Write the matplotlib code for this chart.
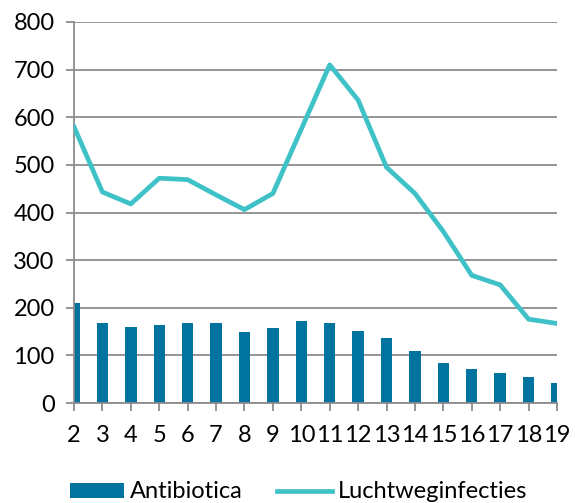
import matplotlib
matplotlib.use("Agg")
import matplotlib.pyplot as plt
import numpy as np

categories = [str(i) for i in range(2, 20)]
antibiotica = [210, 168, 159, 164, 167, 167, 150, 157, 172, 169, 152, 136, 109, 85, 71, 64, 54, 42]
luchtweg = [580, 443, 418, 472, 469, 437, 406, 440, 575, 710, 636, 495, 440, 360, 268, 248, 176, 167]
yticks = [0, 100, 200, 300, 400, 500, 600, 700, 800]

bar_color = "#0073A1"
line_color = "#3FC1C8"
grid_color = "#8C8C8C"

plt.rcParams['font.family'] = ['Lato', 'DejaVu Sans']
fs = 17

fig = plt.figure(figsize=(5.75, 5.03), dpi=100)
ax = fig.add_axes([74/575, 1 - 403/503, (557-74)/575, (403-22)/503])

x = np.arange(len(categories))
bars = ax.bar(x, antibiotica, width=0.4, color=bar_color, label="Antibiotica", zorder=2)
line, = ax.plot(x, luchtweg, color=line_color, lw=3.4, label="Luchtweginfecties", zorder=3)

ax.set_xlim(0, len(categories) - 1)
ax.set_ylim(0, 800)
ax.set_yticks(yticks)
ax.set_xticks(x)
ax.set_xticklabels(categories)
ax.grid(axis='y', color=grid_color, lw=1.3, zorder=0)
ax.set_axisbelow(True)
for s in ['top', 'right']:
    ax.spines[s].set_visible(False)
for s in ['left', 'bottom']:
    ax.spines[s].set_color(grid_color)
    ax.spines[s].set_linewidth(1.3)
ax.tick_params(axis='both', colors=grid_color, length=6, width=1.3, labelsize=fs, labelcolor='black')
ax.tick_params(axis='x', pad=10)
ax.tick_params(axis='y', pad=8)

leg = fig.legend([bars, line], ["Antibiotica", "Luchtweginfecties"],
                 loc='center left', bbox_to_anchor=(70/575, 1 - 492/503), ncol=2, frameon=False,
                 fontsize=fs, handlelength=2.3, handleheight=0.6, handletextpad=0.25,
                 columnspacing=1.45, borderpad=0, borderaxespad=0)

fig.savefig("out.png", dpi=100)
